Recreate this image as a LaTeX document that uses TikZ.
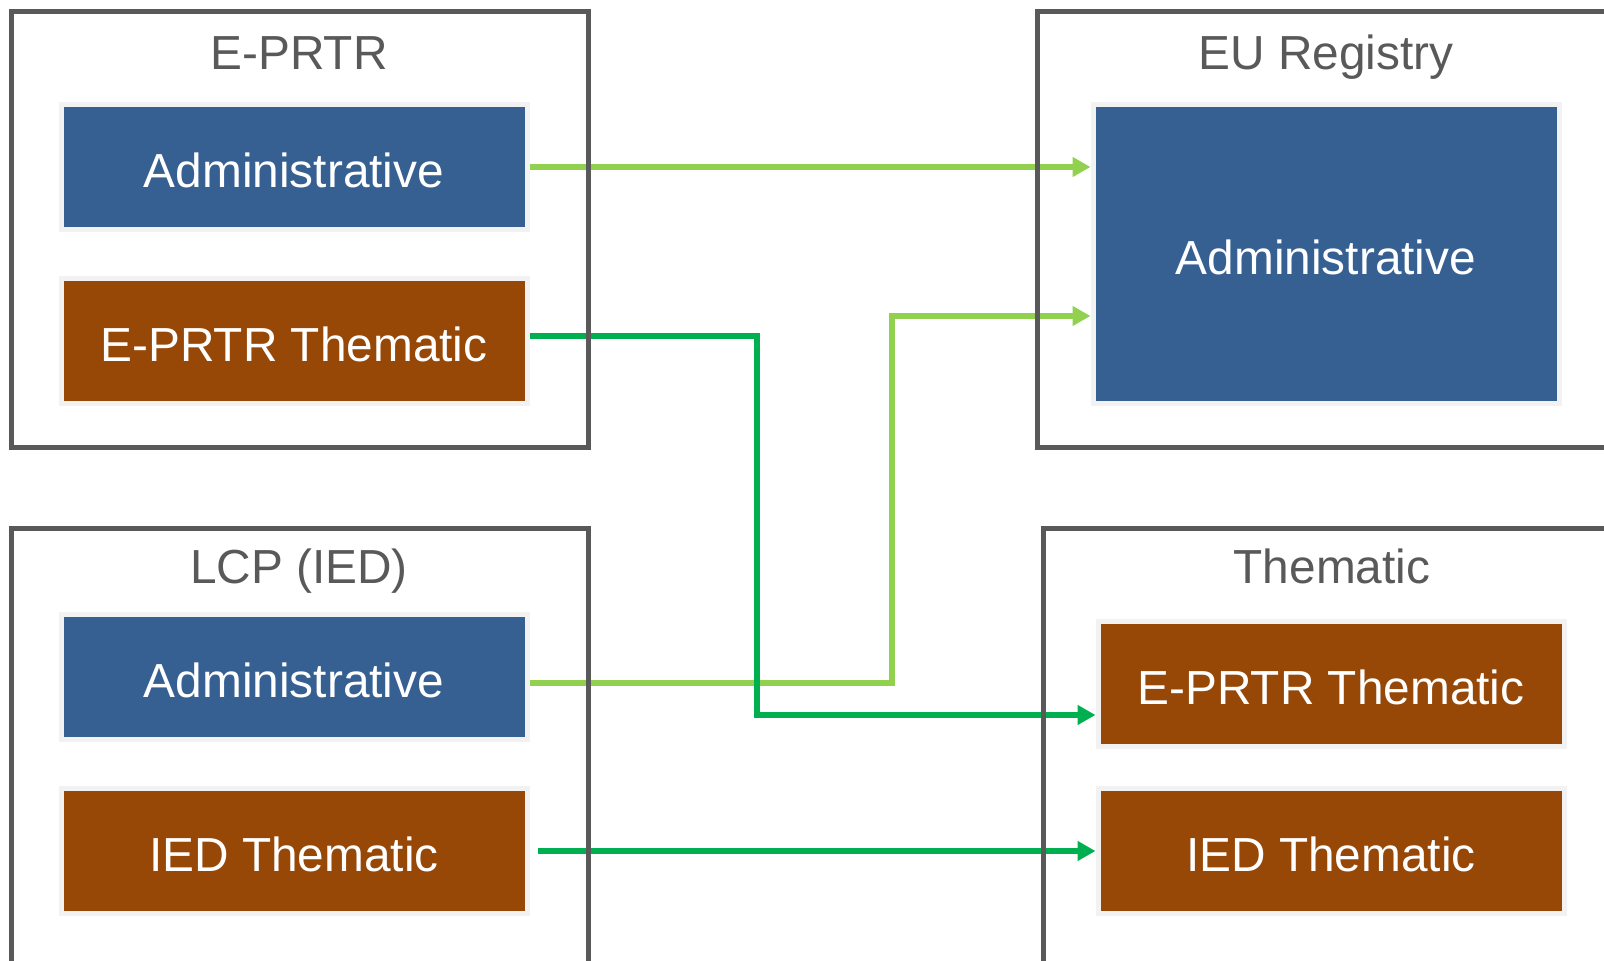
\documentclass[tikz,border=0pt]{standalone}
\usepackage{fontspec}
\setmainfont{Liberation Sans}
\usetikzlibrary{positioning, arrows.meta}
\definecolor{adminblue}{HTML}{366092}
\definecolor{themebrown}{HTML}{974706}
\definecolor{framegray}{HTML}{595959}
\definecolor{edgegray}{HTML}{F2F2F2}
\definecolor{lightgreen}{HTML}{92D050}
\definecolor{darkgreen}{HTML}{00B050}
\tikzset{area/.style={draw=framegray, line width=0.05cm, outer sep=0pt, anchor=north west},
         heading/.style={text=framegray, anchor=base, font=\fontsize{13.6}{16}\selectfont},
         block/.style={draw=edgegray, line width=0.05cm, minimum width=4.66cm, minimum height=1.25cm,
                       text=white, text height=0.42cm, text depth=0cm, font=\fontsize{13.6}{16}\selectfont},
         admin/.style={block, fill=adminblue},
         thematic/.style={block, fill=themebrown},
         link/.style={draw=#1, line width=0.06cm, -{Triangle[length=1.8mm, width=1.9mm]}},
        }

\begin{document}
\begin{tikzpicture}
        \useasboundingbox (0,0) rectangle (16.04,9.61);
        \clip (0,0) rectangle (16.04,9.61);

        \node[admin](eadmin)at(2.94,7.94){Administrative};
        \node[thematic, below=0.44cm of eadmin](ethem){E-PRTR Thematic};
        \node[admin](ladmin)at(2.94,2.84){Administrative};
        \node[thematic, below=0.44cm of ladmin](lthem){IED Thematic};

        \node[admin, minimum height=2.99cm](radmin)at(13.26,7.07){Administrative};
        \node[thematic](tied)at(13.31,1.10){IED Thematic};
        \node[thematic, above=0.37cm of tied](teprtr){E-PRTR Thematic};

        \coordinate(busA)at(7.57,0);
        \coordinate(busB)at(8.92,0);
        \coordinate(inA)at([yshift=-3.1mm]teprtr.west);
        \coordinate(inB)at([yshift=-6.2mm]radmin.west);

        \draw[link=lightgreen](eadmin.east)--(eadmin.east -| radmin.west);
        \draw[link=lightgreen]([yshift=-0.6mm]ladmin.east)-|(busB |- inB)--(inB);
        \draw[link=darkgreen]([yshift=0.5mm]ethem.east)-|(busA |- inA)--(inA);
        \draw[link=darkgreen]([xshift=0.8mm]lthem.east)--(lthem.east -| tied.west);

        \node[area, minimum width=5.76cm, minimum height=4.36cm](eprtr)at(0.12,9.49){};
        \node[area, minimum width=6.5cm, minimum height=4.36cm](registry)at(10.37,9.49){};
        \node[area, minimum width=5.76cm, minimum height=5cm](lcp)at(0.12,4.32){};
        \node[area, minimum width=6.5cm, minimum height=5cm](thematic)at(10.43,4.32){};

        \node[heading](eprtrtitle)at(2.99,8.91){E-PRTR};
        \node[heading](registrytitle)at(13.26,8.91){EU Registry};
        \node[heading](lcptitle)at(2.99,3.77){LCP (IED)};
        \node[heading](thematictitle)at(13.32,3.77){Thematic};
    \end{tikzpicture}
\end{document}
